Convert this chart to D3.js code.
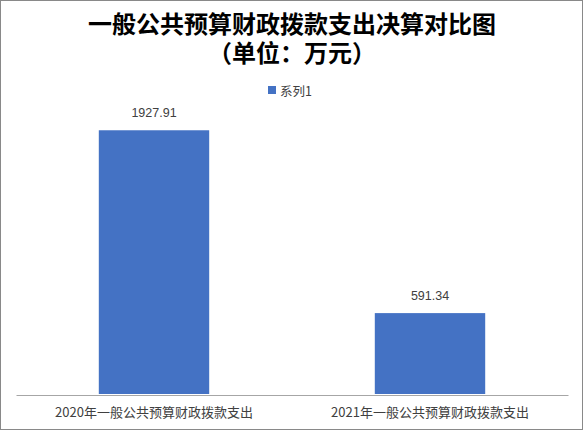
<!DOCTYPE html>
<html>
<head>
<meta charset="utf-8">
<script src="https://cdn.jsdelivr.net/npm/d3@7"></script>
<style>
  html, body { margin: 0; padding: 0; background: #fff; }
  svg { display: block; }
</style>
</head>
<body>
<svg id="chart" width="583" height="430"></svg>
<script>
// chart data
const titleLines = ["一般公共预算财政拨款支出决算对比图", "（单位：万元）"];
const categories = ["2020年一般公共预算财政拨款支出", "2021年一般公共预算财政拨款支出"];
const values = [1927.91, 591.34];
const seriesName = "系列1";

const W = 583, H = 430;
const plot = { left: 16, right: 568, top: 52, bottom: 394 };
const cjk = "'Noto Sans CJK SC', 'Noto Sans', sans-serif";
// latin font first keeps the title line boxes tight, glyphs still fall back to CJK
const titleFont = "'Liberation Sans', 'Noto Sans CJK SC', sans-serif";

const svg = d3.select("#chart");

// outer border
svg.append("rect")
  .attr("x", 0.5).attr("y", 0.5)
  .attr("width", W - 1).attr("height", H - 1)
  .attr("fill", "#fff")
  .attr("stroke", "#898989");

// title
svg.append("g").selectAll("text")
  .data(titleLines)
  .join("text")
  .attr("x", W / 2 + 0.5)
  .attr("y", (d, i) => 32.5 + i * 29)
  .attr("text-anchor", "middle")
  .attr("font-family", titleFont)
  .attr("font-weight", "bold")
  .attr("font-size", 24)
  .attr("fill", "#000")
  .text(d => d);

// legend
const legend = svg.append("g").attr("transform", "translate(268,90)");
legend.append("rect")
  .attr("x", 0).attr("y", -4)
  .attr("width", 8).attr("height", 8)
  .attr("fill", "#4472C4");
legend.append("text")
  .attr("x", 12).attr("y", 0)
  .attr("dominant-baseline", "central")
  .attr("font-family", cjk)
  .attr("font-size", 12.5)
  .attr("fill", "#404040")
  .text(seriesName);

// scales
const x = d3.scaleBand()
  .domain(categories)
  .range([plot.left, plot.right])
  .paddingInner(150 / 250)
  .paddingOuter(150 / 250 / 2);

const y = d3.scaleLinear()
  .domain([0, 2500])
  .range([plot.bottom, plot.top]);

// bars
svg.append("g").selectAll("rect")
  .data(values)
  .join("rect")
  .attr("x", (d, i) => x(categories[i]))
  .attr("y", d => y(d))
  .attr("width", x.bandwidth())
  .attr("height", d => y(0) - y(d))
  .attr("fill", "#4472C4");

// data labels
svg.append("g").selectAll("text")
  .data(values)
  .join("text")
  .attr("x", (d, i) => x(categories[i]) + x.bandwidth() / 2)
  .attr("y", d => y(d) - 17)
  .attr("text-anchor", "middle")
  .attr("dominant-baseline", "central")
  .attr("font-family", "'Liberation Sans', Arial, sans-serif")
  .attr("font-size", 12.5)
  .attr("fill", "#404040")
  .text(d => d.toFixed(2));

// category axis
const xAxis = svg.append("g")
  .attr("transform", `translate(0,${plot.bottom + 1})`)
  .call(d3.axisBottom(x).tickSize(0).tickPadding(0));
xAxis.select(".domain").attr("stroke", "#a6a6a6").attr("stroke-width", 1);
xAxis.selectAll("text")
  .attr("y", 16)
  .attr("dy", null)
  .attr("dominant-baseline", "central")
  .attr("font-family", cjk)
  .attr("font-size", 13)
  .attr("fill", "#404040");
</script>
</body>
</html>
